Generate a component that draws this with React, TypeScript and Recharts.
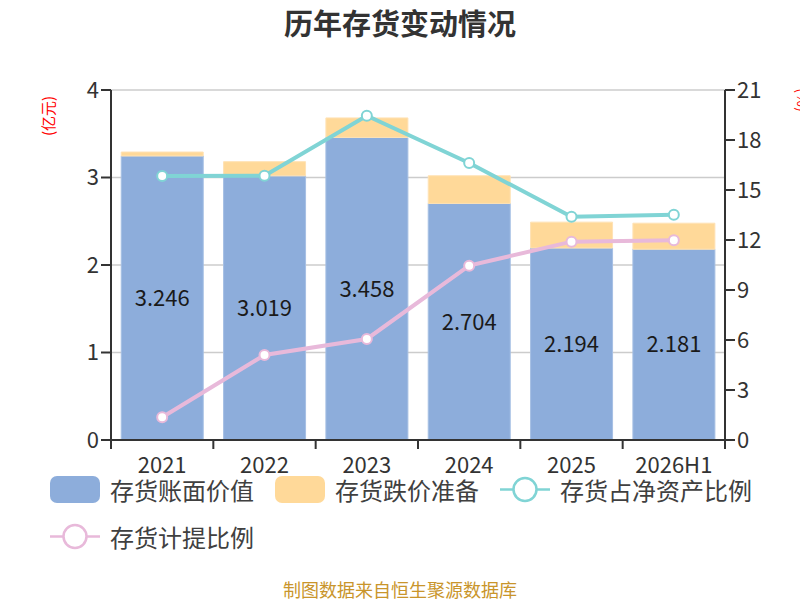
import React from 'react'
import { ComposedChart, Bar, Line, XAxis, YAxis, CartesianGrid, LabelList } from 'recharts'

const categories = ['2021', '2022', '2023', '2024', '2025', '2026H1']
const bookValue = [3.246, 3.019, 3.458, 2.704, 2.194, 2.181]
const reserve = [0.045, 0.162, 0.223, 0.316, 0.296, 0.297]
const netAssetRatio = [15.84, 15.86, 19.46, 16.62, 13.4, 13.52]
const provisionRatio = [1.36, 5.1, 6.06, 10.46, 11.9, 11.98]
const leftTicks = [0, 1, 2, 3, 4]
const rightTicks = [0, 3, 6, 9, 12, 15, 18, 21]

const FONT = '"Noto Sans CJK SC", "Noto Sans", sans-serif'
const BLUE = '#8daddb'
const ORANGE = '#ffd999'
const TEAL = '#80d4d5'
const PINK = '#e8b9da'
const AXIS = '#333333'

const PLOT_LEFT = 111
const PLOT_RIGHT = 725
const PLOT_BOTTOM = 440
const BAND = (PLOT_RIGHT - PLOT_LEFT) / categories.length

const chartData = categories.map((name, i) => ({
  name,
  bookValue: bookValue[i],
  reserve: reserve[i],
  netAssetRatio: netAssetRatio[i],
  provisionRatio: provisionRatio[i],
}))

const legendItems = [
  { name: '存货账面价值', color: BLUE, type: 'rect' },
  { name: '存货跌价准备', color: ORANGE, type: 'rect' },
  { name: '存货占净资产比例', color: TEAL, type: 'line' },
  { name: '存货计提比例', color: PINK, type: 'line' },
]

const CategoryTick = (props: any) => {
  const { x, payload, index } = props
  const left = x - BAND / 2
  const isLast = index === categories.length - 1
  return (
    <g>
      <line x1={left} y1={PLOT_BOTTOM} x2={left} y2={PLOT_BOTTOM + 9} stroke={AXIS} strokeWidth={2} />
      {isLast && (
        <line x1={x + BAND / 2} y1={PLOT_BOTTOM} x2={x + BAND / 2} y2={PLOT_BOTTOM + 9} stroke={AXIS} strokeWidth={2} />
      )}
      <text x={x} y={PLOT_BOTTOM + 33} textAnchor="middle" fill={AXIS} fontSize={22} fontFamily={FONT}>
        {payload.value}
      </text>
    </g>
  )
}

// unit captions: own prop names so Recharts' cloned label props don't override them
const UnitLabel = ({ px, py, rot, caption }: any) => (
  <text
    x={px}
    y={py}
    transform={`rotate(${rot} ${px} ${py})`}
    textAnchor="middle"
    dominantBaseline="central"
    fill="#ff0000"
    fontSize={15}
    fontFamily={FONT}
  >
    {caption}
  </text>
)

function LegendIcon({ item }: { item: (typeof legendItems)[number] }) {
  if (item.type === 'rect') {
    return <div style={{ width: 50, height: 27, borderRadius: 7, background: item.color }} />
  }
  return (
    <svg width={50} height={27}>
      <line x1={0} y1={13.5} x2={50} y2={13.5} stroke={item.color} strokeWidth={2.5} />
      <circle cx={25} cy={13.5} r={11.5} fill="#fff" stroke={item.color} strokeWidth={2.5} />
    </svg>
  )
}

export default function App() {
  return (
    <div style={{ position: 'absolute', left: 0, top: 0, width: 800, height: 600, overflow: 'hidden', fontFamily: FONT, background: '#fff' }}>
      <div
        style={{
          position: 'absolute',
          top: 3,
          left: 0,
          width: 800,
          textAlign: 'center',
          fontSize: 29,
          lineHeight: '38px',
          fontWeight: 'bold',
          color: '#333',
        }}
      >
        历年存货变动情况
      </div>
      <ComposedChart width={800} height={600} data={chartData} margin={{ top: 90, right: 0, bottom: 120, left: 0 }} barCategoryGap="10%">
        <CartesianGrid yAxisId="left" vertical={false} stroke="#cccccc" strokeWidth={1.5} />
        <XAxis
          dataKey="name"
          height={40}
          axisLine={{ stroke: AXIS, strokeWidth: 2 }}
          tickLine={false}
          tick={<CategoryTick />}
          interval={0}
        />
        <YAxis
          yAxisId="left"
          orientation="left"
          width={111}
          domain={[0, 4]}
          ticks={leftTicks}
          axisLine={{ stroke: AXIS, strokeWidth: 2 }}
          tickLine={{ stroke: AXIS, strokeWidth: 2 }}
          tickSize={10}
          tick={{ fill: AXIS, fontSize: 22, fontFamily: FONT }}
          label={<UnitLabel px={47} py={116} rot={-90} caption="(亿元)" />}
        />
        <YAxis
          yAxisId="right"
          orientation="right"
          width={75}
          domain={[0, 21]}
          ticks={rightTicks}
          axisLine={{ stroke: AXIS, strokeWidth: 2 }}
          tickLine={{ stroke: AXIS, strokeWidth: 2 }}
          tickSize={10}
          tick={{ fill: AXIS, fontSize: 22, fontFamily: FONT, textAnchor: 'start' }}
          label={<UnitLabel px={803} py={100} rot={90} caption="(%)" />}
        />
        <Bar yAxisId="left" dataKey="bookValue" stackId="inv" fill={BLUE} stroke="#a6bfe4" strokeWidth={1} isAnimationActive={false}>
          <LabelList dataKey="bookValue" position="center" fill="#1a1a1a" fontSize={22} fontFamily={FONT} formatter={(v: any) => Number(v).toFixed(3)} />
        </Bar>
        <Bar yAxisId="left" dataKey="reserve" stackId="inv" fill={ORANGE} stroke="#ffe2b5" strokeWidth={1} isAnimationActive={false} />
        <Line
          yAxisId="right"
          dataKey="netAssetRatio"
          stroke={TEAL}
          strokeWidth={4}
          dot={{ r: 5, fill: '#fff', stroke: TEAL, strokeWidth: 2 }}
          isAnimationActive={false}
        />
        <Line
          yAxisId="right"
          dataKey="provisionRatio"
          stroke={PINK}
          strokeWidth={4}
          dot={{ r: 5, fill: '#fff', stroke: PINK, strokeWidth: 2 }}
          isAnimationActive={false}
        />
      </ComposedChart>
      <div
        style={{
          position: 'absolute',
          left: 50,
          top: 476,
          width: 740,
          display: 'flex',
          flexWrap: 'wrap',
          columnGap: 21,
          rowGap: 20,
        }}
      >
        {legendItems.map((item) => (
          <div key={item.name} style={{ display: 'flex', alignItems: 'center', height: 27 }}>
            <LegendIcon item={item} />
            <span style={{ marginLeft: 10, fontSize: 24, color: '#404040', lineHeight: '27px', whiteSpace: 'nowrap' }}>{item.name}</span>
          </div>
        ))}
      </div>
      <div
        style={{
          position: 'absolute',
          top: 579,
          left: 0,
          width: 800,
          textAlign: 'center',
          fontSize: 18,
          lineHeight: '20px',
          color: '#c9952b',
        }}
      >
        制图数据来自恒生聚源数据库
      </div>
    </div>
  )
}
